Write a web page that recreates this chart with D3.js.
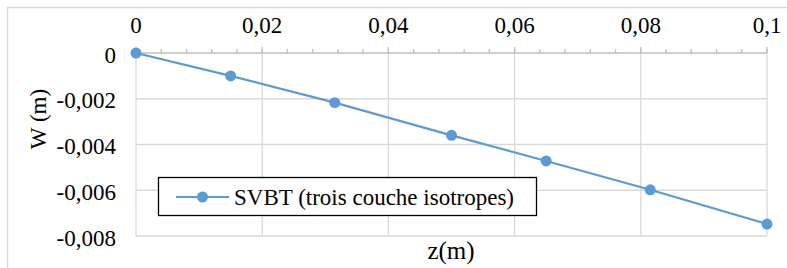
<!DOCTYPE html>
<html>
<head>
<meta charset="utf-8">
<script src="https://cdn.jsdelivr.net/npm/d3@7"></script>
</head>
<body style="margin:0">
<svg id="chart" width="787" height="268"></svg>
<script>
// ---- data ----
const zValues = [0, 0.015, 0.0315, 0.05, 0.065, 0.0815, 0.1];
const wValues = [0, -0.001, -0.00217, -0.0036, -0.00472, -0.00598, -0.00748];
const seriesName = "SVBT (trois couche isotropes)";
const xTicks = [0, 0.02, 0.04, 0.06, 0.08, 0.1];
const yTicks = [0, -0.002, -0.004, -0.006, -0.008];
const xTitle = "z(m)";
const yTitle = "W (m)";

const color = "#5B9BD5";
const grid = "#d9d9d9";
const fmt = v => String(v).replace(".", ",");

const svg = d3.select("#chart");
const x = d3.scaleLinear().domain([0, 0.1]).range([136, 767]);
const y = d3.scaleLinear().domain([0, -0.008]).range([53, 236]);

function txt(sel, size) {
  return sel.style("font-family", '"Times New Roman"').style("font-size", size + "px");
}

// outer chart border
svg.append("rect").attr("x", 7.5).attr("y", 7.5).attr("width", 820).attr("height", 300)
  .attr("fill", "#fff").attr("stroke", grid).attr("stroke-width", 1.5);

// gridlines
svg.append("g").selectAll("line").data(xTicks).join("line")
  .attr("x1", d => x(d)).attr("x2", d => x(d))
  .attr("y1", y(0)).attr("y2", y(-0.008))
  .attr("stroke", grid).attr("stroke-width", 1.3);
svg.append("g").selectAll("line").data(yTicks.slice(1)).join("line")
  .attr("x1", x(0)).attr("x2", x(0.1))
  .attr("y1", d => y(d)).attr("y2", d => y(d))
  .attr("stroke", grid).attr("stroke-width", 1.3);

// top x axis with minor ticks
const minor = d3.range(0, 0.1001, 0.004);
const ax = svg.append("g");
ax.append("line").attr("x1", x(0)).attr("x2", x(0.1)).attr("y1", y(0)).attr("y2", y(0))
  .attr("stroke", "#bfbfbf").attr("stroke-width", 1.3);
ax.selectAll("line.minor").data(minor).join("line").attr("class", "minor")
  .attr("x1", d => x(d)).attr("x2", d => x(d))
  .attr("y1", y(0)).attr("y2", y(0) - 4)
  .attr("stroke", "#bfbfbf").attr("stroke-width", 1.3);
ax.selectAll("line.major").data(xTicks).join("line").attr("class", "major")
  .attr("x1", d => x(d)).attr("x2", d => x(d))
  .attr("y1", y(0)).attr("y2", y(0) - 6)
  .attr("stroke", "#bfbfbf").attr("stroke-width", 1.3);
txt(ax.selectAll("text").data(xTicks).join("text")
  .attr("x", d => x(d)).attr("y", 33)
  .attr("text-anchor", "middle"), 23)
  .text(d => fmt(d));

// y labels
txt(svg.append("g").selectAll("text").data(yTicks).join("text")
  .attr("x", 116).attr("y", d => y(d) + 9.5)
  .attr("text-anchor", "end"), 23)
  .text(d => fmt(d));

// titles
txt(svg.append("text").attr("x", 451).attr("y", 259).attr("text-anchor", "middle"), 25)
  .text(xTitle);
txt(svg.append("text").attr("transform", "translate(46,119) rotate(-90)")
  .attr("text-anchor", "middle"), 23).text(yTitle);

// series
const pts = zValues.map((z, i) => [z, wValues[i]]);
svg.append("path").datum(pts)
  .attr("d", d3.line().x(d => x(d[0])).y(d => y(d[1])))
  .attr("fill", "none").attr("stroke", color).attr("stroke-width", 2.2);
svg.append("g").selectAll("circle").data(pts).join("circle")
  .attr("cx", d => x(d[0])).attr("cy", d => y(d[1])).attr("r", 5.5)
  .attr("fill", color);

// legend
const lg = svg.append("g");
lg.append("rect").attr("x", 158.5).attr("y", 177.5).attr("width", 378).attr("height", 38)
  .attr("fill", "#fff").attr("stroke", "#000").attr("stroke-width", 1.3);
lg.append("line").attr("x1", 176).attr("x2", 229).attr("y1", 197).attr("y2", 197)
  .attr("stroke", color).attr("stroke-width", 2.2);
lg.append("circle").attr("cx", 202.5).attr("cy", 197).attr("r", 5.5).attr("fill", color);
txt(lg.append("text").attr("x", 234).attr("y", 205), 23).text(seriesName);
</script>
</body>
</html>
